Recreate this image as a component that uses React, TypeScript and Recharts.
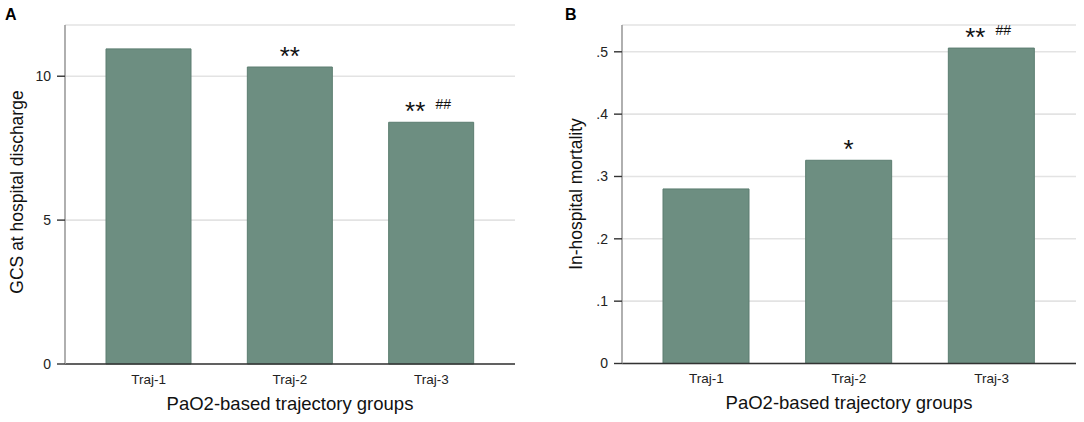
import React from 'react';
import { BarChart, Bar, XAxis, YAxis, CartesianGrid, LabelList, Label } from 'recharts';

const categories = ['Traj-1', 'Traj-2', 'Traj-3'];
const gcsValues = [10.95, 10.32, 8.4];
const mortalityValues = [0.28, 0.326, 0.506];
const gcsStars = ['', '**', '**'];
const gcsHash = ['', '', '##'];
const mortStars = ['', '*', '**'];
const mortHash = ['', '', '##'];
const gcsTicks = [0, 5, 10];
const mortTicks = [0, 0.1, 0.2, 0.3, 0.4, 0.5];

const FONT = '"Liberation Sans", Arial, sans-serif';
const BAR_FILL = '#6d8e81';
const BAR_STROKE = '#5c7d70';

const gcsData = categories.map((c, i) => ({ cat: c, value: gcsValues[i], stars: gcsStars[i], hash: gcsHash[i] }));
const mortData = categories.map((c, i) => ({ cat: c, value: mortalityValues[i], stars: mortStars[i], hash: mortHash[i] }));

const fmtMort = (v: number) => (v === 0 ? '0' : String(Math.round(v * 10) / 10).replace(/^0/, ''));

const makeStarContent = (hashes: string[]) => (props: any) => {
  const { x, y, width, value, index } = props;
  if (!value) return null;
  const cx = Number(x) + Number(width) / 2;
  const shift = hashes[index] ? -16 : 0;
  return (
    <text x={cx + shift} y={Number(y) - 2.5} textAnchor="middle" fontSize={26} fontFamily={FONT} fill="#111">
      {value}
    </text>
  );
};

const hashContent = (props: any) => {
  const { x, y, width, value } = props;
  if (!value) return null;
  const cx = Number(x) + Number(width) / 2;
  return (
    <text x={cx + 12} y={Number(y) - 13.5} textAnchor="middle" fontSize={14} fontFamily={FONT} fill="#111">
      {value}
    </text>
  );
};

const xTitle = (props: any) => {
  const vb = props.viewBox;
  return (
    <text x={vb.x + vb.width / 2} y={vb.y + 45.5} textAnchor="middle" fontSize={18.5} fontFamily={FONT} fill="#111">
      PaO2-based trajectory groups
    </text>
  );
};

const makeYTitle = (text: string, cx: number, cy: number, letter: string, lx: number) => () => (
  <g>
    <text
      x={cx}
      y={cy}
      transform={`rotate(-90 ${cx} ${cy})`}
      textAnchor="middle"
      dominantBaseline="central"
      fontSize={17.5}
      fontFamily={FONT}
      fill="#111"
    >
      {text}
    </text>
    <text x={lx} y={20} fontSize={16} fontWeight="bold" fontFamily={FONT} fill="#000">
      {letter}
    </text>
  </g>
);

export default function App() {
  return (
    <div style={{ position: 'absolute', left: 0, top: 0, width: 1084, height: 422, background: '#fff', fontFamily: FONT }}>
      <div style={{ position: 'absolute', left: 0, top: 0 }}>
        <BarChart width={542} height={422} data={gcsData} margin={{ top: 25, right: 27, bottom: 28, left: 5 }}>
          <CartesianGrid horizontal vertical={false} stroke="#e3e3e3" strokeWidth={1.6} />
          <XAxis
            dataKey="cat"
            height={30}
            padding={{ left: 13, right: 13 }}
            tickLine={false}
            axisLine={{ stroke: '#333', strokeWidth: 1.5 }}
            tick={{ fontSize: 13.5, fill: '#222', fontFamily: FONT }}
            tickMargin={4}
          >
            <Label content={xTitle} />
          </XAxis>
          <YAxis
            width={60}
            domain={[0, 11.78]}
            ticks={gcsTicks}
            interval={0}
            tickSize={8}
            tickMargin={6}
            axisLine={{ stroke: '#9c9c9c', strokeWidth: 1.6 }}
            tickLine={{ stroke: '#333', strokeWidth: 1.4 }}
            tick={{ fontSize: 14, fill: '#222', fontFamily: FONT }}
          >
            <Label content={makeYTitle('GCS at hospital discharge', 16.5, 192, 'A', 5)} />
          </YAxis>
          <Bar dataKey="value" fill={BAR_FILL} stroke={BAR_STROKE} strokeWidth={1} barSize={85} isAnimationActive={false}>
            <LabelList dataKey="stars" content={makeStarContent(gcsHash)} />
            <LabelList dataKey="hash" content={hashContent} />
          </Bar>
        </BarChart>
      </div>
      <div style={{ position: 'absolute', left: 542, top: 0 }}>
        <BarChart width={542} height={422} data={mortData} margin={{ top: 25, right: 8, bottom: 28.5, left: 20 }}>
          <CartesianGrid horizontal vertical={false} stroke="#e3e3e3" strokeWidth={1.6} />
          <XAxis
            dataKey="cat"
            height={30}
            padding={{ left: 13, right: 13 }}
            tickLine={false}
            axisLine={{ stroke: '#333', strokeWidth: 1.5 }}
            tick={{ fontSize: 13.5, fill: '#222', fontFamily: FONT }}
            tickMargin={4}
          >
            <Label content={xTitle} />
          </XAxis>
          <YAxis
            width={60}
            domain={[0, 0.543]}
            ticks={mortTicks}
            interval={0}
            tickFormatter={fmtMort}
            tickSize={8}
            tickMargin={6}
            axisLine={{ stroke: '#9c9c9c', strokeWidth: 1.6 }}
            tickLine={{ stroke: '#333', strokeWidth: 1.4 }}
            tick={{ fontSize: 14, fill: '#222', fontFamily: FONT }}
          >
            <Label content={makeYTitle('In-hospital mortality', 33.5, 194, 'B', 23)} />
          </YAxis>
          <Bar dataKey="value" fill={BAR_FILL} stroke={BAR_STROKE} strokeWidth={1} barSize={86} isAnimationActive={false}>
            <LabelList dataKey="stars" content={makeStarContent(mortHash)} />
            <LabelList dataKey="hash" content={hashContent} />
          </Bar>
        </BarChart>
      </div>
    </div>
  );
}
